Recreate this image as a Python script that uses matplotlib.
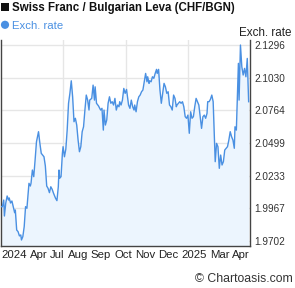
import matplotlib
matplotlib.use("Agg")
import matplotlib.pyplot as plt
from matplotlib.patches import Rectangle, Ellipse

# ---- data ----
days = [0, 2, 4, 5, 7, 9, 11, 12, 14, 16, 18, 20, 21, 23, 25, 27, 29, 30, 32, 34,
        36, 38, 41, 43, 44, 46, 48, 50, 52, 55, 57, 59, 61, 63, 65, 67, 69, 71, 73, 75,
        77, 80, 82, 84, 85, 86, 88, 90, 91, 93, 95, 97, 99, 101, 103, 105, 107, 109, 111, 113,
        115, 117, 119, 121, 123, 125, 127, 129, 130, 133, 135, 137, 138, 140, 143, 146, 148, 150, 151, 153,
        155, 157, 159, 161, 163, 165, 167, 169, 171, 173, 174, 176, 178, 180, 182, 184, 187, 189, 191, 193,
        195, 196, 198, 200, 202, 204, 206, 208, 210, 212, 214, 215, 217, 218, 220, 222, 224, 226, 228, 229,
        231, 233, 235, 237, 239, 241, 243, 245, 247, 249, 251, 253, 255, 257, 258, 260, 262, 264, 266, 268,
        270, 272, 274, 276, 278, 280, 282, 284, 286, 288, 290, 292, 294, 296, 298, 300, 302, 303, 305, 307,
        309, 311, 313, 314, 316, 318, 320, 322, 324, 326, 328, 330, 332, 334, 336, 338, 340, 342, 343, 345,
        346, 348, 349, 351, 353, 355, 357, 359, 361, 363]
rates = [1.9981, 1.9981, 2.0035, 1.9905, 2.0011, 2.0068, 2.0035, 2.0052, 2.0011, 2.0027,
         1.9981, 1.9932, 1.9954, 1.9791, 1.9778, 1.9743, 1.9751, 1.9710, 1.9737, 1.9818,
         1.9981, 1.9968, 2.0171, 2.0149, 2.0171, 2.0279, 2.0225, 2.0361, 2.0509, 2.0591,
         2.0496, 2.0415, 2.0401, 2.0387, 2.0312, 2.0149, 2.0130, 2.0095, 2.0143, 2.0122,
         2.0090, 2.0049, 2.0030, 2.0143, 2.0279, 2.0212, 2.0225, 2.0415, 2.0469, 2.0387,
         2.0448, 2.0604, 2.0822, 2.0903, 2.1005, 2.0875, 2.0672, 2.0700, 2.0645, 2.0523,
         2.0428, 2.0469, 2.0591, 2.0631, 2.0767, 2.0889, 2.0848, 2.0767, 2.0848, 2.0862,
         2.0970, 2.0848, 2.0956, 2.0822, 2.0800, 2.0767, 2.0781, 2.0604, 2.0767, 2.0645,
         2.0686, 2.0822, 2.0875, 2.0822, 2.0835, 2.0808, 2.0862, 2.0767, 2.0808, 2.0794,
         2.0835, 2.0808, 2.0848, 2.0943, 2.0903, 2.0935, 2.0808, 2.0781, 2.0848, 2.0794,
         2.0767, 2.0808, 2.0753, 2.0835, 2.0875, 2.0889, 2.0916, 2.0930, 2.0997, 2.1065,
         2.0997, 2.1038, 2.0984, 2.1005, 2.0997, 2.1038, 2.1025, 2.1065, 2.1098, 2.1065,
         2.1098, 2.0930, 2.0822, 2.0903, 2.0984, 2.0956, 2.0903, 2.0916, 2.0808, 2.0794,
         2.0767, 2.0889, 2.0862, 2.0794, 2.0808, 2.0822, 2.0835, 2.0822, 2.0835, 2.0794,
         2.0713, 2.0700, 2.0726, 2.0578, 2.0753, 2.0700, 2.0713, 2.0794, 2.0862, 2.0835,
         2.0808, 2.0713, 2.0618, 2.0713, 2.0726, 2.0700, 2.0740, 2.0835, 2.0835, 2.0854,
         2.0889, 2.0835, 2.0523, 2.0347, 2.0496, 2.0469, 2.0293, 2.0401, 2.0320, 2.0347,
         2.0442, 2.0456, 2.0469, 2.0523, 2.0591, 2.0550, 2.0523, 2.0456, 2.0631, 2.0604,
         2.0794, 2.1147, 2.0848, 2.1296, 2.1119, 2.1052, 2.1106, 2.1038, 2.1187, 2.0835]

y_ticks = [1.9702, 1.9967, 2.0233, 2.0499, 2.0764, 2.1030, 2.1296]
x_labels = ["2024", "Apr", "Jul", "Aug", "Sep", "Oct", "Nov", "Dec", "2025", "Mar", "Apr"]
x_label_pos = [18.8, 54.7, 82.7, 112.6, 146.6, 178.8, 211.1, 245.1, 282.9, 320.3, 352.0]
x_grid = [91.25, 182.5, 273.75]

title = "Swiss Franc / Bulgarian Leva (CHF/BGN)"
legend_label = "Exch. rate"
axis_title = "Exch. rate"
credit = "© Chartoasis.com"

# ---- figure ----
plt.rcParams['font.family'] = ['Liberation Sans', 'DejaVu Sans']
W, H = 295, 288
fig = plt.figure(figsize=(W / 100, H / 100), dpi=100)
fig.patch.set_facecolor("white")

ax = fig.add_axes([1 / W, 1 - 246 / H, 249 / W, 206 / H])
line_col = "#4a90e2"
fill_col = "#ecf5fe"

ax.fill_between(days, rates, 1.9661, color=fill_col, lw=0, zorder=1)
ax.plot(days, rates, color=line_col, lw=1.0, zorder=3)

ax.set_xlim(0, 365)
ax.set_ylim(1.9661, 2.1337)

for g in x_grid:
    ax.axvline(g, color="#e6e6e6", lw=1, zorder=0.5)
for t in y_ticks:
    ax.axhline(t, color="#e6e6e6", lw=1, zorder=0.5)

ax.set_facecolor("white")
ax.yaxis.tick_right()
ax.set_yticks(y_ticks)
ax.set_yticklabels([f"{v:.4f}" for v in y_ticks], fontsize=7.2, color="#333333")
ax.tick_params(axis="y", length=0, pad=3)
ax.set_xticks(x_label_pos)
ax.set_xticklabels(x_labels, fontsize=8.2, color="#222222")
ax.tick_params(axis="x", length=0, pad=3)

for s in ["top"]:
    ax.spines[s].set_visible(False)
for s in ["left", "right", "bottom"]:
    ax.spines[s].set_color("#444444")
    ax.spines[s].set_linewidth(1.0)

# title and legend
fig.add_artist(Rectangle((1 / W, 1 - 11 / H), 8 / W, 8.3 / H, transform=fig.transFigure,
                         color="#111111", lw=0))
fig.text(12 / W, 1 - 11 / H, title, fontsize=8.3, fontweight="bold", color="#111111",
         ha="left", va="baseline")
fig.add_artist(Ellipse((5 / W, 1 - 24.8 / H), 8.2 / W, 8.2 / H, transform=fig.transFigure,
                       color=line_col, lw=0))
fig.text(12 / W, 1 - 29 / H, legend_label, fontsize=8.2, color=line_col,
         ha="left", va="baseline")
fig.text(239 / W, 1 - 36 / H, axis_title, fontsize=8.4, color="#222222",
         ha="left", va="baseline")
fig.text(293 / W, 1 - 282 / H, credit, fontsize=8.8, color="#333333",
         ha="right", va="baseline")

fig.savefig("out.png", dpi=100, facecolor="white")
